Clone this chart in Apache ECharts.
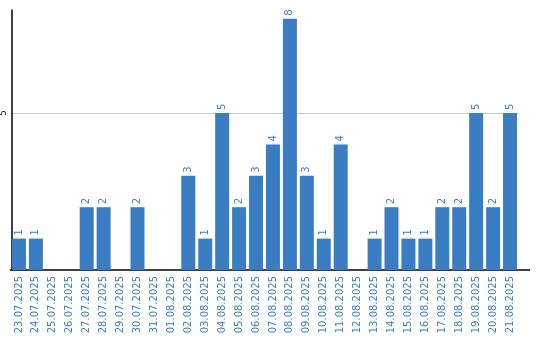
<!DOCTYPE html>
<html><head><meta charset="utf-8">
<script src="https://cdn.jsdelivr.net/npm/echarts@6/dist/echarts.min.js"></script>
<style>html,body{margin:0;padding:0;background:#fff}#c{width:540px;height:340px}</style>
</head><body><div id="c"></div>
<script>
const categories = ["23.07.2025","24.07.2025","25.07.2025","26.07.2025","27.07.2025","28.07.2025","29.07.2025","30.07.2025","31.07.2025","01.08.2025","02.08.2025","03.08.2025","04.08.2025","05.08.2025","06.08.2025","07.08.2025","08.08.2025","09.08.2025","10.08.2025","11.08.2025","12.08.2025","13.08.2025","14.08.2025","15.08.2025","16.08.2025","17.08.2025","18.08.2025","19.08.2025","20.08.2025","21.08.2025"];
const values = [1,1,0,0,2,2,0,2,0,0,3,1,5,2,3,4,8,3,1,4,0,1,2,1,1,2,2,5,2,5];
const blue = '#3b7dc3';
const chart = echarts.init(document.getElementById('c'), null, {renderer:'canvas'});
chart.setOption({
  animation:false,
  grid:{left:8.5, right:21.5, top:10, bottom:70, containLabel:false},
  xAxis:{type:'category', data:categories,
    axisLine:{lineStyle:{color:'#000', width:1.5}},
    axisTick:{show:false},
    axisLabel:{rotate:90, margin:6, color:blue, fontFamily:'DejaVu Sans', fontSize:10, interval:0}},
  yAxis:{type:'value', min:0, max:8.28, interval:5, offset:-1.5,
    axisLine:{show:true, lineStyle:{color:'#000', width:1.5}},
    axisTick:{show:false},
    axisLabel:{rotate:90, margin:4, color:'#000', fontFamily:'DejaVu Sans', fontSize:8, showMaxLabel:false, formatter:v=>v===0?'':String(v)},
    splitLine:{show:true, lineStyle:{color:['transparent','#c8c8c8','transparent'], width:1}}},
  graphic:[{type:'line', shape:{x1:519, y1:270, x2:530, y2:270}, style:{stroke:'#000', lineWidth:1.5}}],
  series:[{type:'bar', data:values, barWidth:14, itemStyle:{color:blue},
    label:{show:true, position:'top', rotate:90, align:'left', verticalAlign:'middle', distance:3,
      color:blue, fontFamily:'DejaVu Sans', fontSize:10,
      formatter:p=>p.value===0?'':String(p.value)}}]
});
</script></body></html>
